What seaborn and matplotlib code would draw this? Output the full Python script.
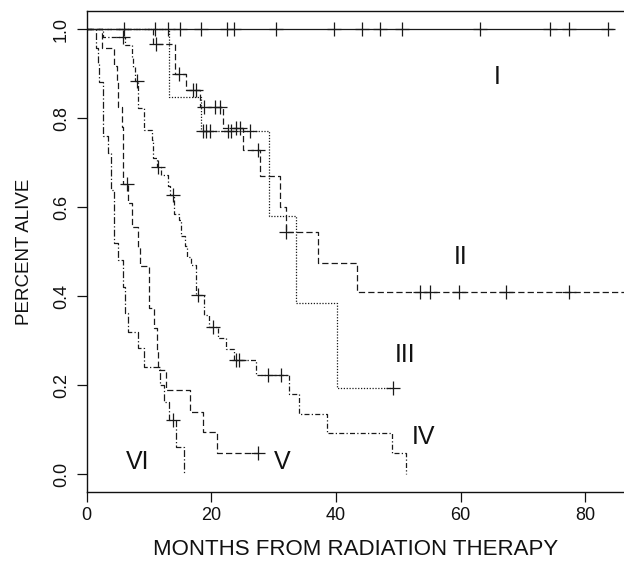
import matplotlib
matplotlib.use("Agg")
import matplotlib.pyplot as plt
import seaborn as sns
import numpy as np
import pandas as pd

# ---------------- data ----------------
# Group I
I_times = [0.0, 84.5]
I_surv = [1.0, 1.0]
I_cens_t = [6.0, 10.9, 13.0, 14.9, 18.4, 22.5, 23.6, 30.4, 39.6, 44.2, 47.0, 50.6, 63.1, 74.4, 77.3, 83.7]
I_cens_s = [1.0] * 16

# Group II
II_times = [0.0, 10.7, 14.2, 16.0, 18.2, 21.9, 25.1, 27.8, 31.0, 31.9, 37.1, 43.3, 86.2]
II_surv = [1.0, 0.967, 0.899, 0.864, 0.824, 0.777, 0.729, 0.669, 0.601, 0.545, 0.475, 0.41, 0.41]
II_cens_t = [11.1, 14.8, 17.1, 17.5, 18.8, 20.6, 21.4, 24.0, 24.6, 27.5, 32.05, 53.4, 55.0, 59.8, 67.3, 77.3]
II_cens_s = [0.967, 0.899, 0.864, 0.864, 0.824, 0.824, 0.824, 0.777, 0.777, 0.729, 0.545, 0.41, 0.41, 0.41, 0.41, 0.41]

# Group III
III_times = [0.0, 13.2, 18.4, 29.2, 33.65, 40.2, 49.1]
III_surv = [1.0, 0.848, 0.770, 0.579, 0.384, 0.193, 0.193]
III_cens_t = [18.7, 19.2, 19.8, 22.7, 23.2, 26.2, 49.1]
III_cens_s = [0.770, 0.770, 0.770, 0.770, 0.770, 0.770, 0.193]

# Group IV
IV_times = [0.0, 2.6, 6.1, 7.2, 7.4, 7.75, 8.2, 8.3, 9.2, 10.4, 10.7, 11.3, 12.0, 13.0, 13.4,
            14.0, 14.8, 15.2, 15.8, 16.1, 16.8, 17.6, 18.8, 19.7, 21.1, 22.3, 23.6, 27.1,
            32.5, 34.0, 38.6, 49.0, 51.3]
IV_surv = [1.0, 0.982, 0.964, 0.937, 0.915, 0.884, 0.857, 0.822, 0.773, 0.751, 0.71, 0.69, 0.672,
           0.647, 0.627, 0.585, 0.57, 0.536, 0.512, 0.488, 0.47, 0.403, 0.357, 0.331, 0.306,
           0.282, 0.256, 0.223, 0.18, 0.136, 0.093, 0.047, 0.0]
IV_cens_t = [5.8, 8.0, 11.5, 13.8, 17.9, 20.3, 24.0, 24.5, 29.1, 31.25]
IV_cens_s = [0.982, 0.884, 0.69, 0.627, 0.403, 0.331, 0.256, 0.256, 0.223, 0.223]

# Group V
V_times = [0.0, 2.5, 4.4, 4.9, 5.0, 5.7, 5.9, 6.55, 7.3, 8.3, 8.55, 10.0, 10.8, 11.3, 11.5,
           12.7, 16.55, 18.7, 20.9, 27.5]
V_surv = [1.0, 0.957, 0.918, 0.88, 0.826, 0.781, 0.652, 0.609, 0.556, 0.511, 0.467, 0.373,
          0.328, 0.279, 0.234, 0.189, 0.14, 0.095, 0.047, 0.047]
V_cens_t = [6.4, 27.5]
V_cens_s = [0.652, 0.047]

# Group VI
VI_times = [0.0, 1.57, 1.86, 1.97, 2.66, 3.5, 3.95, 4.35, 5.06, 5.9, 6.1, 6.67, 8.27, 9.23,
            11.7, 12.35, 13.2, 14.4, 15.55]
VI_surv = [1.0, 0.957, 0.924, 0.882, 0.759, 0.721, 0.639, 0.519, 0.481, 0.42, 0.361, 0.32,
           0.283, 0.241, 0.2, 0.163, 0.121, 0.061, 0.0]
VI_cens_t = [13.9]
VI_cens_s = [0.121]

group_names = ["I", "II", "III", "IV", "V", "VI"]
label_x = [65.9, 60.0, 51.0, 54.0, 31.4, 8.1]
label_y = [0.893, 0.488, 0.268, 0.083, 0.027, 0.027]

x_ticks = [0, 20, 40, 60, 80]
y_ticks = [0.0, 0.2, 0.4, 0.6, 0.8, 1.0]
y_tick_labels = ["0.0", "0.2", "0.4", "0.6", "0.8", "1.0"]
x_title = "MONTHS FROM RADIATION THERAPY"
y_title = "PERCENT ALIVE"

# ---------------- styling ----------------
sns.set_style("ticks")
plt.rcParams["font.family"] = ["Liberation Sans", "DejaVu Sans"]

line_styles = {
    "I": "-",
    "II": (0, (5, 2.5)),
    "III": (0, (1, 1.3)),
    "IV": (0, (4, 1.8, 1, 1.8)),
    "V": (0, (5, 2.5)),
    "VI": (0, (5.5, 1.8, 1, 1.8)),
}

fig = plt.figure(figsize=(6.24, 5.64), dpi=100)
ax = fig.add_axes([0.1389, 0.1277, 0.8611, 0.8523])

curves = {
    "I": (I_times, I_surv, I_cens_t, I_cens_s),
    "II": (II_times, II_surv, II_cens_t, II_cens_s),
    "III": (III_times, III_surv, III_cens_t, III_cens_s),
    "IV": (IV_times, IV_surv, IV_cens_t, IV_cens_s),
    "V": (V_times, V_surv, V_cens_t, V_cens_s),
    "VI": (VI_times, VI_surv, VI_cens_t, VI_cens_s),
}

line_color = "#1a1a1a"
for name in group_names:
    t, s, ct, cs = curves[name]
    df = pd.DataFrame({"t": t, "s": s})
    sns.lineplot(data=df, x="t", y="s", ax=ax, estimator=None, sort=False,
                 drawstyle="steps-post", color=line_color, linewidth=0.9,
                 linestyle=line_styles[name])
    cdf = pd.DataFrame({"t": ct, "s": cs})
    sns.scatterplot(data=cdf, x="t", y="s", ax=ax, marker="+", s=100,
                    color=line_color, linewidth=0.9, zorder=5)

for name, lx, ly in zip(group_names, label_x, label_y):
    ax.text(lx, ly, name, fontsize=18, color="#111111", ha="center", va="center")

ax.set_xlim(0, 86.2)
ax.set_ylim(-0.04, 1.04)
ax.set_xticks(x_ticks)
ax.set_xticklabels([str(v) for v in x_ticks])
ax.set_yticks(y_ticks)
ax.set_yticklabels(y_tick_labels, rotation=90, va="center")

ax.tick_params(axis="both", direction="out", length=7, width=0.9, colors="#111111",
               labelsize=13)
ax.tick_params(axis="x", pad=4)
ax.tick_params(axis="y", pad=5)

for side in ["left", "bottom", "top"]:
    ax.spines[side].set_visible(True)
    ax.spines[side].set_linewidth(1.0)
    ax.spines[side].set_color("#111111")
ax.spines["right"].set_visible(False)

ax.set_xlabel(x_title, fontsize=16, color="#111111")
ax.set_ylabel(y_title, fontsize=13.5, color="#111111")
ax.xaxis.set_label_coords(0.5, -0.097)
ax.yaxis.set_label_coords(-0.10, 0.5)
ax.grid(False)

fig.savefig("out.png", dpi=100)
